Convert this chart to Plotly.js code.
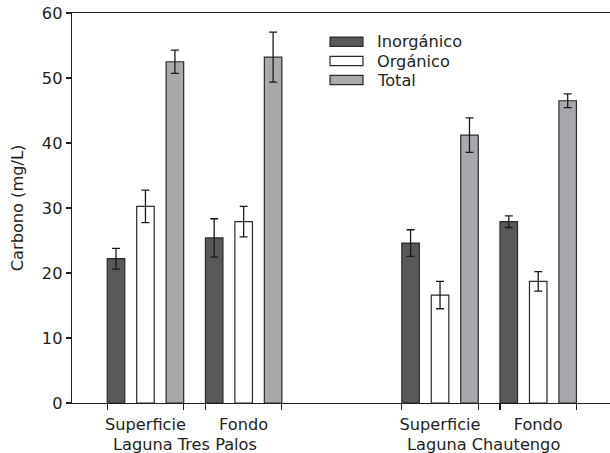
<!DOCTYPE html>
<html>
<head>
<meta charset="utf-8">
<script src="https://cdn.plot.ly/plotly-3.0.1.min.js"></script>
<style>html,body{margin:0;padding:0;background:#fff;overflow:hidden;width:610px;height:453px;}#chart{width:616px;height:453px;}</style>
</head>
<body>
<div id="chart"></div>
<script>
// Data
var groupPos = [0, 1, 3, 4];
var groupLabels = ["Superficie", "Fondo", "Superficie", "Fondo"];
var lagoonLabels = ["Laguna Tres Palos", "Laguna Chautengo"];
var lagoonPos = [0.40, 3.44];
var seriesNames = ["Inorgánico", "Orgánico", "Total"];
var inorganico = [22.2, 25.4, 24.6, 27.9];
var inorganicoErr = [1.6, 2.95, 2.05, 0.9];
var organico = [30.25, 27.9, 16.6, 18.7];
var organicoErr = [2.5, 2.35, 2.1, 1.5];
var total = [52.5, 53.2, 41.2, 46.5];
var totalErr = [1.8, 3.85, 2.65, 1.05];
var yTicks = [0, 10, 20, 30, 40, 50, 60];

var FONT = "DejaVu Sans, sans-serif";
var FS = 16.2;
var TXT = "#231f20";
var OUTLINE = "#2b2b2b";
var colors = ["#58595b", "#ffffff", "#a7a9ac"];
var vals = [inorganico, organico, total];
var errs = [inorganicoErr, organicoErr, totalErr];

var traces = vals.map(function(v, i) {
  return {
    type: "bar",
    name: seriesNames[i],
    x: groupPos,
    y: v,
    showlegend: false,
    marker: {color: colors[i], line: {color: OUTLINE, width: 1.2}},
    error_y: {type: "data", array: errs[i], visible: true, color: "#1a1a1a", thickness: 1.3, width: 4}
  };
});

// edge tick positions (outer edges of each bar group)
var half = 0.389;
var edgeTicks = [];
groupPos.forEach(function(p){ edgeTicks.push(p - half); edgeTicks.push(p + half); });

var xr = [-0.748, 4.792];

// legend key (wide swatches like the original figure), built from the series arrays
var legX0 = 0.4743, legX1 = 0.5349, legTextX = 0.557;
var legRowY = [0.9264, 0.8769, 0.8282];
var legHalfH = 0.0118;
var legendShapes = seriesNames.map(function(n, i) {
  return {type: "rect", xref: "paper", yref: "paper",
    x0: legX0, x1: legX1, y0: legRowY[i] - legHalfH, y1: legRowY[i] + legHalfH,
    fillcolor: colors[i], line: {color: OUTLINE, width: 1.2}, layer: "above"};
});
var legendTexts = seriesNames.map(function(n, i) {
  return {text: n, xref: "paper", yref: "paper", x: legTextX, y: legRowY[i],
    xanchor: "left", yanchor: "middle", showarrow: false,
    font: {family: FONT, size: FS, color: TXT}};
});

var layout = {
  width: 616, height: 453,
  margin: {l: 72, r: 0, t: 13, b: 50},
  paper_bgcolor: "#fff", plot_bgcolor: "#fff",
  font: {family: FONT, size: FS, color: TXT},
  barmode: "group",
  bargap: 0.1,
  bargroupgap: 0.405,
  showlegend: false,
  xaxis: {
    range: xr, showgrid: false, zeroline: false,
    showline: true, linecolor: TXT, linewidth: 1.3, mirror: true,
    tickmode: "array", tickvals: groupPos, ticktext: groupLabels,
    ticks: "", ticklabelstandoff: 6,
    tickfont: {family: FONT, size: FS, color: TXT},
    minor: {tickmode: "array", tickvals: edgeTicks, ticks: "outside", ticklen: 6,
      tickwidth: 1.2, tickcolor: TXT, showgrid: false}
  },
  yaxis: {
    range: [0, 60], showgrid: false, zeroline: false,
    showline: true, linecolor: TXT, linewidth: 1.3,
    tickmode: "array", tickvals: yTicks,
    ticks: "outside", ticklen: 5, tickwidth: 1.2, tickcolor: TXT,
    tickfont: {family: FONT, size: FS, color: TXT},
    title: {text: "Carbono (mg/L)", font: {family: FONT, size: FS, color: TXT}, standoff: 14}
  },
  shapes: legendShapes,
  annotations: lagoonLabels.map(function(t, i) {
    return {text: t, x: lagoonPos[i], xref: "x", y: 0, yref: "paper", yanchor: "top",
      yshift: -30, showarrow: false, font: {family: FONT, size: FS, color: TXT}};
  }).concat(legendTexts)
};

Plotly.newPlot("chart", traces, layout, {staticPlot: true, displayModeBar: false});
</script>
</body>
</html>
